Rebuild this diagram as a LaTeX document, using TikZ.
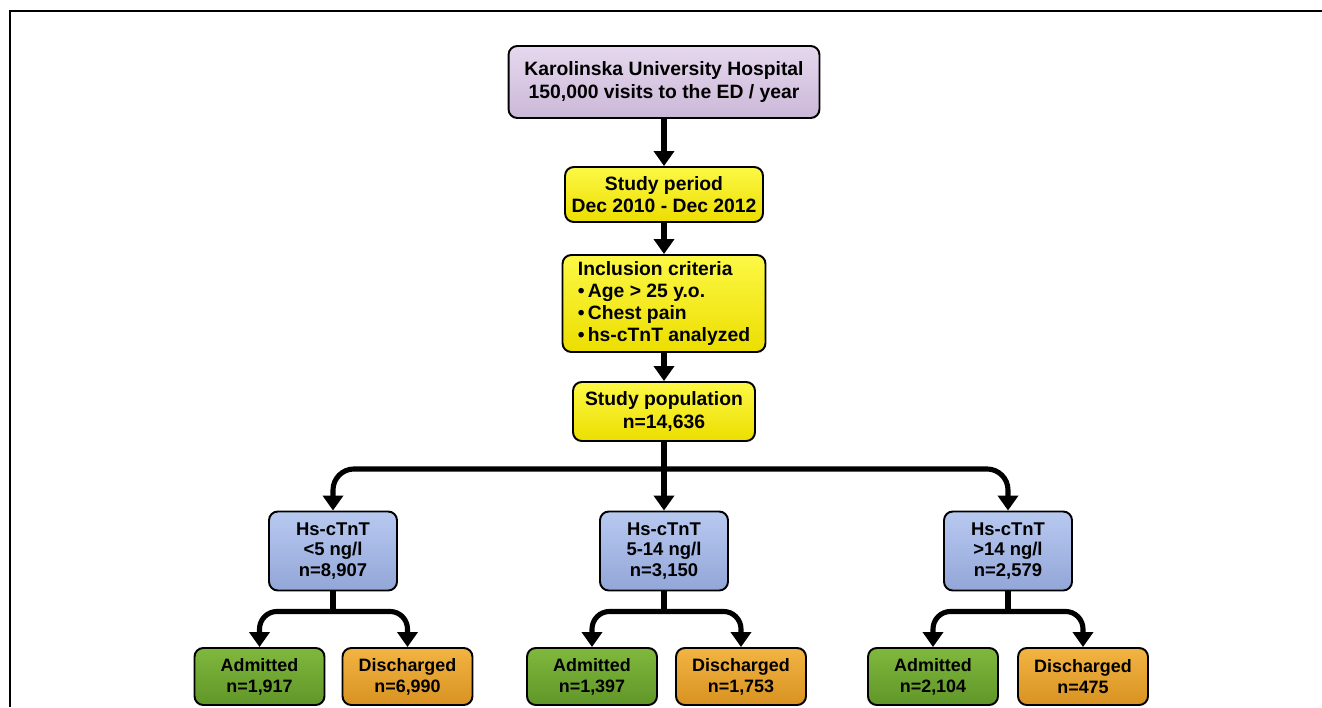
\documentclass[tikz,border=0pt]{standalone}
\usepackage{fontspec}
\setmainfont{Liberation Sans}
\usepackage{tikz}
\usetikzlibrary{positioning, arrows.meta}

\definecolor{hospTop}{RGB}{230,216,238}
\definecolor{hospBot}{RGB}{203,184,216}
\definecolor{studyTop}{RGB}{252,248,70}
\definecolor{studyBot}{RGB}{236,222,0}
\definecolor{levelTop}{RGB}{184,201,240}
\definecolor{levelBot}{RGB}{146,166,216}
\definecolor{admTop}{RGB}{128,184,62}
\definecolor{admBot}{RGB}{96,150,40}
\definecolor{disTop}{RGB}{242,180,66}
\definecolor{disBot}{RGB}{216,146,34}

\begin{document}
\begin{tikzpicture}[
    x=0.02cm, y=-0.02cm,
    box/.style={rectangle, draw=black, line width=1.1pt, rounded corners=5pt,
                align=center, inner sep=2pt, font=\fontsize{11}{12.6}\selectfont\bfseries},
    hospbox/.style={box, top color=hospTop, bottom color=hospBot,
                    minimum width=6.22cm, minimum height=1.44cm},
    studybox/.style={box, top color=studyTop, bottom color=studyBot},
    levelbox/.style={box, top color=levelTop, bottom color=levelBot,
                     minimum width=2.56cm, minimum height=1.58cm,
                     font=\fontsize{10.5}{11.8}\selectfont\bfseries},
    outbox/.style={box, minimum width=2.6cm, minimum height=1.14cm,
                   font=\fontsize{10.2}{12}\selectfont\bfseries},
    admbox/.style={outbox, top color=admTop, bottom color=admBot},
    disbox/.style={outbox, top color=disTop, bottom color=disBot},
    link/.style={line width=2.9pt},
    arrow/.style={-{Triangle[length=0.3cm, width=0.4cm]}, line width=2.9pt}
]
    \useasboundingbox (0,0) rectangle (1322,707);
    % Frame
    \draw[line width=1.6pt] (1322,11) -- (10,11) -- (10,707);

    % Top of the chart
    \node[hospbox] (hospital) at (664, 82) {Karolinska University Hospital\\
        150,000 visits to the ED / year};
    \node[studybox, minimum width=3.96cm, minimum height=1.1cm] (period) at (664, 194.5)
        {Study period\\Dec 2010 - Dec 2012};
    \node[studybox, minimum width=4.06cm, minimum height=1.94cm, align=left] (criteria) at (664, 303.5)
        {Inclusion criteria\\
         \textbullet\,Age > 25 y.o.\\
         \textbullet\,Chest pain\\
         \textbullet\,hs-cTnT analyzed};
    \node[studybox, minimum width=3.64cm, minimum height=1.18cm] (population) at (664, 411.5)
        {Study population\\n=14,636};

    \draw[arrow] (hospital) -- (period);
    \draw[arrow] (period) -- (criteria);
    \draw[arrow] (criteria) -- (population);

    % hs-cTnT levels
    \node[levelbox] (low) at (333, 551) {Hs-cTnT\\<5 ng/l\\n=8,907};
    \node[levelbox] (middle) at (664, 551) {Hs-cTnT\\5-14 ng/l\\n=3,150};
    \node[levelbox] (high) at (1008, 551) {Hs-cTnT\\>14 ng/l\\n=2,579};

    \coordinate[below=0.54cm of population] (split);
    \draw[arrow] (population) -- (middle);
    \draw[arrow, rounded corners=12pt] (split) -| (low);
    \draw[arrow, rounded corners=12pt] (split) -| (high);

    % Outcomes
    \node[admbox] (lowAdm) at (259.5, 676.5) {Admitted\\n=1,917};
    \node[disbox] (lowDis) at (407.5, 676.5) {Discharged\\n=6,990};
    \node[admbox] (midAdm) at (592, 676.5) {Admitted\\n=1,397};
    \node[disbox] (midDis) at (741, 676.5) {Discharged\\n=1,753};
    \node[admbox] (highAdm) at (933, 676.5) {Admitted\\n=2,104};
    \node[disbox] (highDis) at (1083, 676.5) {Discharged\\n=475};

    \coordinate[below=0.4cm of low] (lowSplit);
    \coordinate[below=0.4cm of middle] (midSplit);
    \coordinate[below=0.4cm of high] (highSplit);

    \draw[link] (low) -- (lowSplit);
    \draw[arrow, rounded corners=10pt] (lowSplit) -| (lowAdm);
    \draw[arrow, rounded corners=10pt] (lowSplit) -| (lowDis);
    \draw[link] (middle) -- (midSplit);
    \draw[arrow, rounded corners=10pt] (midSplit) -| (midAdm);
    \draw[arrow, rounded corners=10pt] (midSplit) -| (midDis);
    \draw[link] (high) -- (highSplit);
    \draw[arrow, rounded corners=10pt] (highSplit) -| (highAdm);
    \draw[arrow, rounded corners=10pt] (highSplit) -| (highDis);
\end{tikzpicture}
\end{document}
